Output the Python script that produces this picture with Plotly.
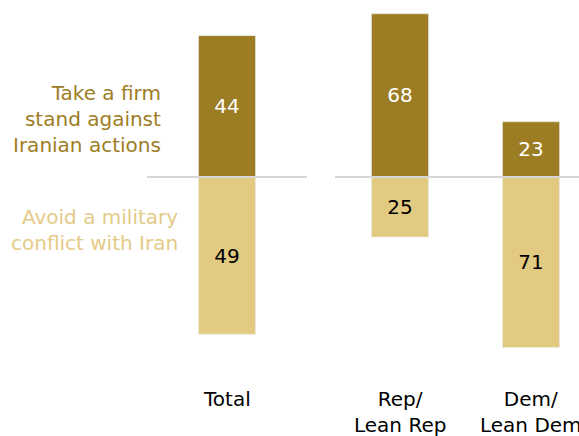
import plotly.graph_objects as go

# Survey shares (%), by group
total_cat = ["Total"]
total_firm = [44]
total_avoid = [49]

party_cats = ["Rep/<br>Lean Rep", "Dem/<br>Lean Dem"]
party_firm = [68, 23]
party_avoid = [25, 71]

series_labels = ["Take a firm<br>stand against<br>Iranian actions",
                 "Avoid a military<br>conflict with Iran"]

DARK = "#9D7D24"
LIGHT = "#E2CA81"
FONT = "DejaVu Sans"
W, H = 579, 436

fig = go.Figure()

def add_pair(cats, firm, avoid, xa, ya, width):
    xs = list(range(len(cats)))
    fig.add_bar(x=xs, y=firm, marker_color=DARK, width=width,
                text=[str(v) for v in firm], textposition="inside",
                insidetextanchor="middle",
                textfont=dict(color="white", size=20, family=FONT),
                xaxis=xa, yaxis=ya, showlegend=False, hoverinfo="skip")
    fig.add_bar(x=xs, y=[-v for v in avoid], marker_color=LIGHT, width=width,
                text=[str(v) for v in avoid], textposition="inside",
                insidetextanchor="middle",
                textfont=dict(color="black", size=20, family=FONT),
                xaxis=xa, yaxis=ya, showlegend=False, hoverinfo="skip")

add_pair(total_cat, total_firm, total_avoid, "x", "y", 0.356)
add_pair(party_cats, party_firm, party_avoid, "x2", "y2", 0.435)

axis_off = dict(showgrid=False, zeroline=False, showticklabels=False,
                showline=False, ticks="", fixedrange=True)

fig.update_layout(
    width=W, height=H,
    margin=dict(l=0, r=0, t=0, b=0),
    paper_bgcolor="white", plot_bgcolor="white",
    barmode="relative",
    xaxis=dict(domain=[147 / W, 307 / W], range=[-0.5, 0.5], **axis_off),
    yaxis=dict(domain=[0, 1], range=[-80.7, 55.1], **axis_off),
    xaxis2=dict(domain=[335 / W, 1], range=[-0.496, 1.366], anchor="y2", **axis_off),
    yaxis2=dict(domain=[0, 1], range=[-107.9, 73.75], anchor="x2", **axis_off),
    uniformtext=dict(mode=False),
)

# baselines under each panel
fig.add_shape(type="line", xref="x domain", yref="y", x0=0, x1=1, y0=0, y1=0,
              line=dict(color="#D6D6D6", width=2), layer="above")
fig.add_shape(type="line", xref="x2 domain", yref="y2", x0=0, x1=1, y0=0, y1=0,
              line=dict(color="#D6D6D6", width=2), layer="above")

# category labels below the bars
fig.add_annotation(x=0, y=1 - 399 / H, xref="x", yref="paper", text=total_cat[0],
                   showarrow=False, font=dict(size=20, color="black", family=FONT),
                   yanchor="middle")
for i, c in enumerate(party_cats):
    fig.add_annotation(x=i, y=1 - 412 / H, xref="x2", yref="paper", text=c,
                       showarrow=False, font=dict(size=20, color="black", family=FONT),
                       yanchor="middle", align="center")

# series labels to the left
fig.add_annotation(x=163 / W, y=1 - 119 / H, xref="paper", yref="paper",
                   text=series_labels[0], showarrow=False, xanchor="right",
                   yanchor="middle", align="right",
                   font=dict(size=20, color=DARK, family=FONT))
fig.add_annotation(x=180 / W, y=1 - 230 / H, xref="paper", yref="paper",
                   text=series_labels[1], showarrow=False, xanchor="right",
                   yanchor="middle", align="right",
                   font=dict(size=20, color="#E4CB86", family=FONT))

fig.write_html("out.html")
